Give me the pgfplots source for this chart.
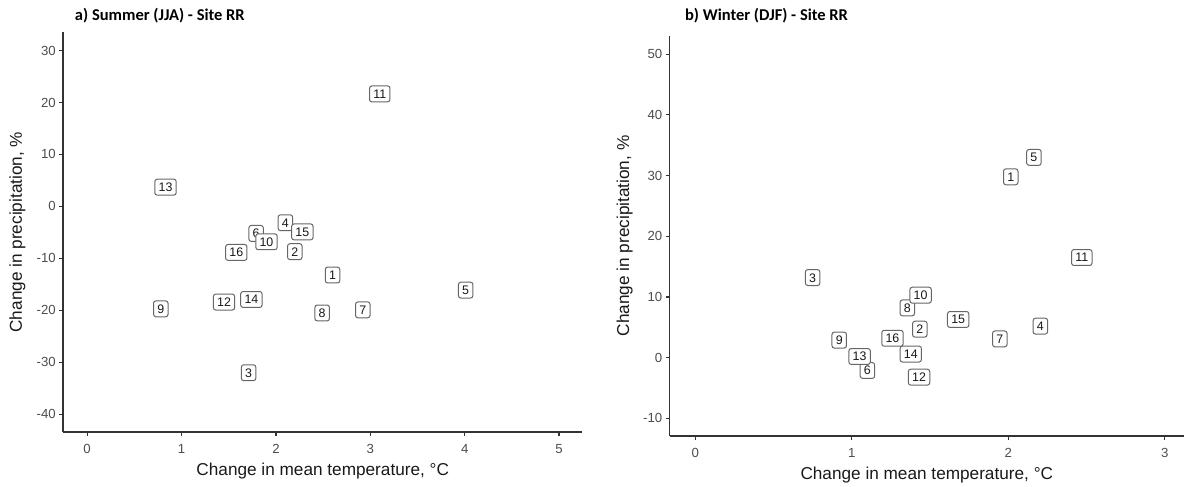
\documentclass[border=0pt]{standalone}
\usepackage{fontspec}
\setmainfont{Liberation Sans}
\newfontfamily\titlefont{Carlito}
\usepackage{pgfplots}
\usepackage{pgfplotstable}
\pgfplotsset{compat=1.18}
\definecolor{axisgray}{HTML}{333333}
\definecolor{tickgray}{HTML}{4D4D4D}
\definecolor{boxgray}{HTML}{666666}

\pgfplotstableread{
id x y
1 2.60 -13.2
2 2.20 -8.7
3 1.71 -32.0
4 2.10 -3.15
5 4.01 -16.1
6 1.79 -5.2
7 2.92 -19.9
8 2.49 -20.5
9 0.78 -19.7
10 1.90 -6.8
11 3.10 21.65
12 1.45 -18.4
13 0.83 3.7
14 1.74 -17.9
15 2.28 -4.9
16 1.58 -8.85
}\summer

\pgfplotstableread{
id x y
1 2.016 29.8
2 1.435 4.7
3 0.75 13.2
4 2.205 5.2
5 2.164 33.0
6 1.10 -2.1
7 1.946 3.1
8 1.355 8.2
9 0.92 2.9
10 1.44 10.3
11 2.47 16.5
12 1.43 -3.2
13 1.05 0.2
14 1.377 0.6
15 1.68 6.3
16 1.26 3.2
}\winter

\pgfplotsset{
  ggstyle/.style={
    scale only axis,
    axis x line*=bottom, axis y line*=left,
    axis line style={-, axisgray, line width=0.7pt},
    tick align=outside, major tick length=1.9pt,
    tick style={axisgray, line width=0.6pt},
    ticklabel style={font=\fontsize{6.6}{7.5}\selectfont, text=tickgray},
    yticklabel style={inner xsep=1.6pt},
    xticklabel style={yshift=-0.6pt},
    /pgf/number format/assume math mode=true,
    label style={font=\fontsize{8.6}{10}\selectfont, text=black!90},
    clip=false,
    anchor=south west,
    nodes near coords align={center},
    every node near coord/.style={font=\fontsize{6.2}{7}\selectfont, draw=boxgray, fill=white, rounded corners=1.2pt, line width=0.5pt, inner xsep=1.9pt, inner ysep=1.75pt, text height=4.45pt, text depth=0pt, text=black!90},
    xlabel={Change in mean temperature, °C},
    ylabel={Change in precipitation, \%},
    xlabel style={at={(axis description cs:0.5,0)}, anchor=center, yshift=-19.5pt},
  }
}

\begin{document}
\begin{tikzpicture}
\useasboundingbox (0,0) rectangle (592pt,243.5pt);
\node[anchor=base west, inner sep=0pt, font=\titlefont\bfseries\fontsize{8.25}{10}\selectfont] at (37.3pt,233.15pt) {a) Summer (JJA) - Site RR};
\node[anchor=base west, inner sep=0pt, font=\titlefont\bfseries\fontsize{8.25}{10}\selectfont] at (342.35pt,233.15pt) {b) Winter (DJF) - Site RR};

\begin{axis}[ggstyle, at={(31.55pt,27.5pt)}, width=259.65pt, height=199.85pt,
  xmin=-0.255, xmax=5.247, ymin=-43.4, ymax=33.5,
  xtick={0,1,2,3,4,5}, ytick={-40,-30,-20,-10,0,10,20,30},
  ylabel style={at={(axis description cs:-0.0878,0.5)}, anchor=center},
]
\addplot[draw=none, mark=none, nodes near coords, point meta=explicit symbolic] table[x=x, y=y, meta=id] {\summer};
\end{axis}

\begin{axis}[ggstyle, at={(334.8pt,25.5pt)}, width=257.2pt, height=200pt,
  xmin=-0.164, xmax=3.123, ymin=-12.9, ymax=53.0,
  xtick={0,1,2,3}, ytick={-10,0,10,20,30,40,50},
  ylabel style={at={(axis description cs:-0.0875,0.5)}, anchor=center},
]
\addplot[draw=none, mark=none, nodes near coords, point meta=explicit symbolic] table[x=x, y=y, meta=id] {\winter};
\end{axis}
\end{tikzpicture}
\end{document}
